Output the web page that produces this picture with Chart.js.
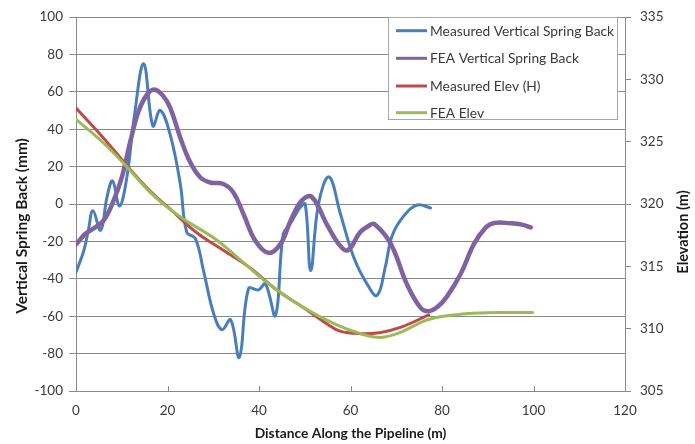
<!DOCTYPE html>
<html>
<head>
<meta charset="utf-8">
<script src="https://cdn.jsdelivr.net/npm/chart.js@4/dist/chart.umd.min.js"></script>
<style>
  html, body { margin: 0; padding: 0; background: #ffffff; }
  #wrap { width: 695px; height: 444px; }
</style>
</head>
<body>
<div id="wrap"><canvas id="chart" width="695" height="444"></canvas></div>
<script>
// Distance along the pipeline (m) and vertical spring back (mm), measured
const measuredSpringX = [0, 1.7, 2.7, 3.7, 5.4, 6.8, 8.0, 9.5, 11.1, 12.7, 14.8, 16.8, 18.4, 20.6, 22.8, 24.2, 26.1, 27.9, 30.1, 31.9, 33.8, 35.7, 37.7, 39.9, 41.4, 43.6, 45.3, 46.8, 49.0, 50.1, 51.3, 53.0, 55.3, 57.8, 60.7, 63.6, 65.8, 67.6, 69.1, 71.7, 74.6, 77.5];
const measuredSpring  = [-36.5, -25, -14, -3.6, -14, 4, 12.4, -1, 14, 46, 75, 41.8, 50.1, 37, 10.7, -15, -18.5, -36, -58.7, -67.2, -61.9, -82, -45.3, -45.9, -42.7, -59.6, -16, -10.7, -1.8, 0, -35.6, 0, 14.5, -5.3, -28.5, -42.7, -48.9, -33.8, -16.9, -6.2, -0.5, -2.1];

// Vertical spring back (mm), FEA
const feaSpringX = [0, 2, 4.2, 6.0, 7.9, 10.0, 11.9, 13.7, 15.5, 17.1, 19.0, 20.6, 22.8, 25.0, 27.2, 29.4, 32.2, 34.4, 36.6, 39.2, 42.1, 44.7, 46.9, 49.3, 51.5, 54.8, 57.4, 59.4, 62.1, 64.0, 65.2, 68.8, 72.3, 75.2, 77.0, 79.0, 81.0, 84.1, 87.0, 89.6, 91.4, 95.0, 97.5, 99.4];
const feaSpring  = [-21.7, -16, -12.5, -8.9, 0, 14.2, 33.8, 49.8, 58.5, 61.3, 58, 51.5, 35.5, 22.2, 14.2, 11.5, 10.7, 6.2, -5.3, -19.6, -26.1, -21.3, -8.9, 1.8, 3.9, -10.7, -21.3, -24.7, -15.1, -11.6, -10.7, -21.3, -42.7, -55.1, -57.3, -55, -49.8, -37.3, -21.3, -12.5, -10.1, -10.3, -11, -12.5];

// Pipeline elevation (m), measured
const measuredElevX = [0, 6.0, 11.1, 16.3, 20.6, 26.4, 32.2, 38.0, 43.9, 49.7, 54.8, 57.7, 62.2, 66.6, 70.9, 77.1];
const measuredElev  = [327.7, 325.3, 323.1, 321.0, 319.6, 317.7, 316.3, 314.9, 313.1, 311.7, 310.4, 309.8, 309.6, 309.7, 310.1, 311.1];

// Pipeline elevation (m), FEA
const feaElevX = [0, 6.0, 11.1, 15.5, 19.1, 23.5, 30.8, 36.6, 42.5, 49.7, 57.0, 62.2, 66.6, 70.9, 76.7, 82.6, 87.7, 93.0, 99.8];
const feaElev  = [326.8, 324.9, 323.0, 321.2, 320.0, 318.8, 317.1, 315.3, 313.5, 311.7, 310.3, 309.6, 309.3, 309.7, 310.7, 311.1, 311.25, 311.3, 311.3];

const seriesNames = ['Measured Vertical Spring Back', 'FEA Vertical Spring Back', 'Measured Elev (H)', 'FEA Elev'];
const seriesColors = ['#4A7EBB', '#7F63A1', '#BE4B48', '#9BBB59'];

const axisTitles = {
  x: 'Distance Along the Pipeline (m)',
  left: 'Vertical Spring Back (mm)',
  right: 'Elevation (m)'
};

const FONT = 'Lato, "Open Sans", sans-serif';
const GRID = '#8a8a8a';
const TEXT = '#3a3a3a';

function pairs(xs, ys) { return xs.map((x, i) => ({ x: x, y: ys[i] })); }

// Legend box, axis titles and inward x ticks
const decorations = {
  id: 'decorations',
  afterDraw(chart) {
    const ctx = chart.ctx;
    const a = chart.chartArea;
    const xs = chart.scales.x;
    ctx.save();

    // inward tick marks on the distance axis
    ctx.strokeStyle = GRID;
    ctx.lineWidth = 1;
    xs.ticks.forEach(t => {
      const px = Math.round(xs.getPixelForValue(t.value)) + 0.5;
      ctx.beginPath();
      ctx.moveTo(px, a.bottom);
      ctx.lineTo(px, a.bottom - 5);
      ctx.stroke();
    });

    // legend
    const bx = 388, by = Math.round(a.top) + 0.5, bw = 229, bh = 102;
    ctx.fillStyle = '#ffffff';
    ctx.fillRect(bx, by, bw, bh);
    ctx.strokeStyle = '#a6a6a6';
    ctx.strokeRect(bx + 0.5, by, bw, bh);
    const rows = [30.7, 58.3, 86, 112.7];
    ctx.font = '13.8px ' + FONT;
    ctx.textAlign = 'left';
    ctx.textBaseline = 'middle';
    seriesNames.forEach((name, i) => {
      ctx.strokeStyle = seriesColors[i];
      ctx.lineWidth = 3;
      ctx.beginPath();
      ctx.moveTo(396, rows[i]);
      ctx.lineTo(427, rows[i]);
      ctx.stroke();
      ctx.fillStyle = TEXT;
      ctx.fillText(name, 430, rows[i] + 0.5);
    });

    // axis titles
    ctx.fillStyle = '#1a1a1a';
    ctx.textAlign = 'center';
    ctx.textBaseline = 'middle';
    ctx.font = 'bold 13.8px ' + FONT;
    ctx.fillText(axisTitles.x, (a.left + a.right) / 2, 434);

    ctx.save();
    ctx.translate(22, 226);
    ctx.rotate(-Math.PI / 2);
    ctx.font = 'bold 15.5px ' + FONT;
    ctx.fillText(axisTitles.left, 0, 0);
    ctx.restore();

    ctx.save();
    ctx.translate(683, 232);
    ctx.rotate(-Math.PI / 2);
    ctx.font = 'bold 14.5px ' + FONT;
    ctx.fillText(axisTitles.right, 0, 0);
    ctx.restore();

    ctx.restore();
  }
};

const lineStyle = (i, width, order, axis) => ({
  label: seriesNames[i],
  borderColor: seriesColors[i],
  backgroundColor: seriesColors[i],
  borderWidth: width,
  pointRadius: 0,
  pointHoverRadius: 0,
  tension: 0.4,
  fill: false,
  order: order,
  yAxisID: axis,
  borderCapStyle: 'round',
  borderJoinStyle: 'round'
});

new Chart(document.getElementById('chart'), {
  type: 'line',
  data: {
    datasets: [
      Object.assign(lineStyle(0, 3, 4, 'y'), { data: pairs(measuredSpringX, measuredSpring) }),
      Object.assign(lineStyle(1, 4.5, 3, 'y'), { data: pairs(feaSpringX, feaSpring) }),
      Object.assign(lineStyle(2, 3, 2, 'y1'), { data: pairs(measuredElevX, measuredElev) }),
      Object.assign(lineStyle(3, 3, 1, 'y1'), { data: pairs(feaElevX, feaElev) })
    ]
  },
  options: {
    responsive: false,
    animation: false,
    devicePixelRatio: 1,
    layout: { padding: { top: 16, left: 0, right: 0, bottom: 0 } },
    plugins: { legend: { display: false }, tooltip: { enabled: false } },
    scales: {
      x: {
        type: 'linear',
        min: 0, max: 120,
        afterFit(s) { s.height = 53; },
        ticks: { stepSize: 20, color: TEXT, font: { family: FONT, size: 13.5 }, padding: 12, maxRotation: 0 },
        grid: { drawOnChartArea: false, drawTicks: false, color: GRID },
        border: { color: GRID, width: 1 }
      },
      y: {
        position: 'left',
        min: -100, max: 100,
        afterFit(s) { s.width = 76; },
        ticks: { stepSize: 20, color: TEXT, font: { family: FONT, size: 13.5 }, padding: 6 },
        grid: { color: GRID, lineWidth: 1, tickLength: 7 },
        border: { color: GRID, width: 1 }
      },
      y1: {
        position: 'right',
        min: 305, max: 335,
        afterFit(s) { s.width = 70; },
        ticks: { stepSize: 5, color: TEXT, font: { family: FONT, size: 13.5 }, padding: 9 },
        grid: { drawOnChartArea: false, color: GRID, tickLength: 6 },
        border: { color: GRID, width: 1 }
      }
    }
  },
  plugins: [decorations]
});
</script>
</body>
</html>
